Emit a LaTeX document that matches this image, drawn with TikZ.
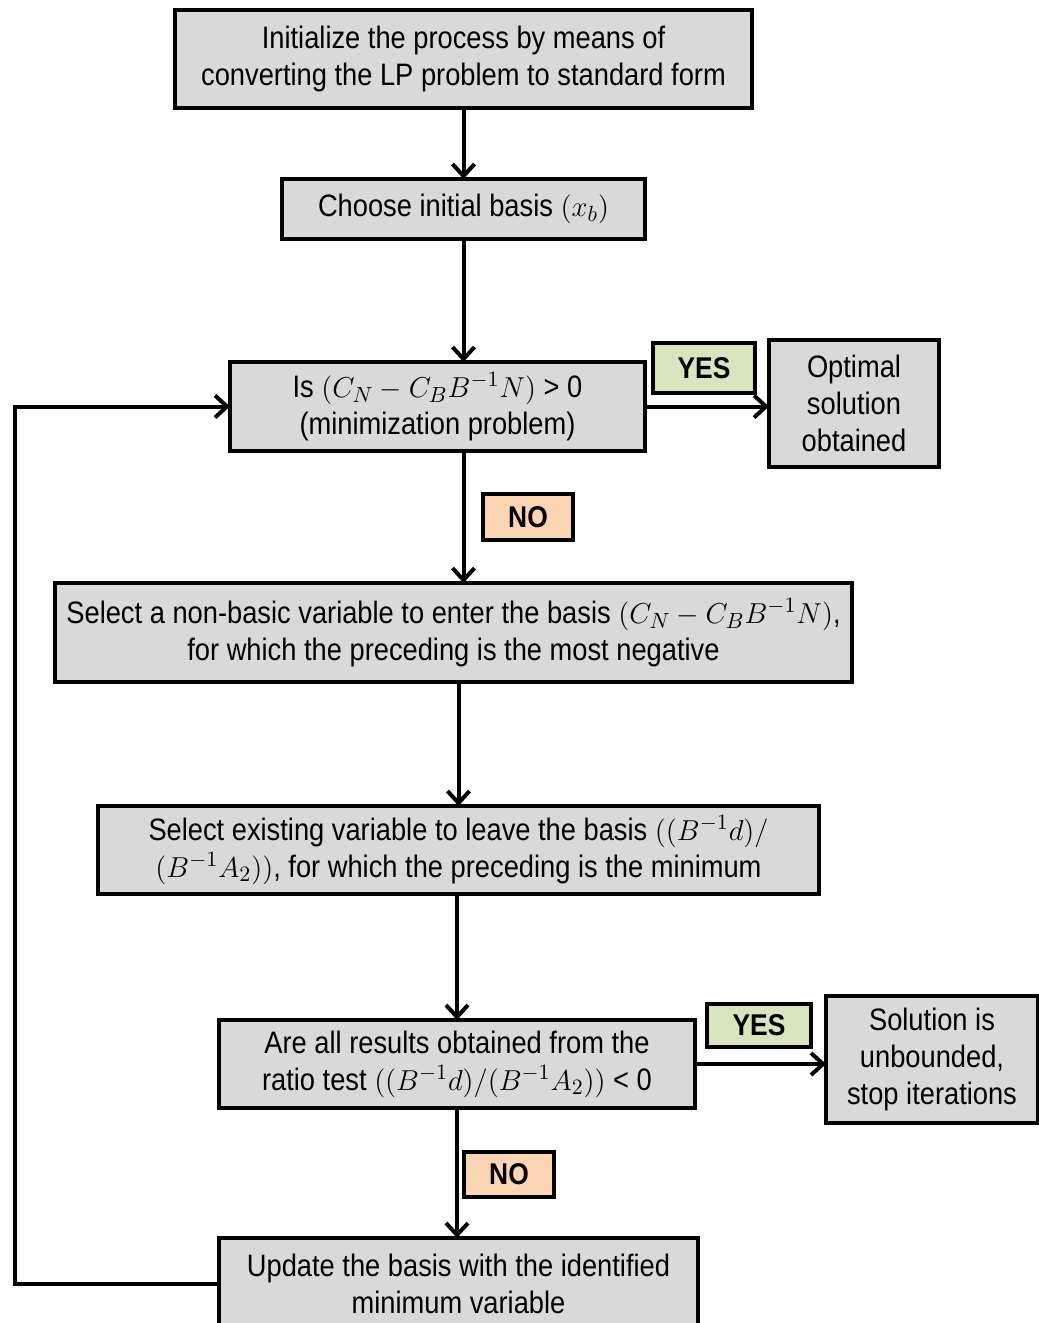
\documentclass[tikz,border=0pt]{standalone}
\usepackage{fontspec}
\setmainfont{Liberation Sans}[FakeStretch=0.88]
\usetikzlibrary{positioning}
\usetikzlibrary{arrows.meta}
\definecolor{boxgray}{HTML}{D9D9D9}
\definecolor{yesgreen}{HTML}{D7E4BD}
\definecolor{nopeach}{HTML}{FBD4B4}
\tikzset{
    flowline/.style={line width=2pt},
    >={Straight Barb[length=6pt,width=11pt,line width=2pt]},
    procbox/.style={
        draw,rectangle,fill=boxgray,
        line width=1.7pt,
        align=center,
        inner sep=2pt,outer sep=0pt,
        font=\fontsize{15.5pt}{18.5pt}\selectfont,
        },
    answerbox/.style={
        draw,rectangle,fill=#1,
        line width=1.7pt,
        inner sep=0pt,outer sep=0pt,
        font=\fontsize{15pt}{18pt}\selectfont\bfseries,
        }
    }

\begin{document}
\begin{tikzpicture}[x=0.5pt,y=-0.5pt]
    \useasboundingbox (0,0) rectangle (1039,1323);
    \node[procbox,minimum width=288.5pt,minimum height=49pt] (init) at (463.5,59) {Initialize the process by means of\\converting the LP problem to standard form};
    \node[procbox,minimum width=181.5pt,minimum height=30pt] (choose) [below=35.5pt of init] {Choose initial basis $(x_b)$};
    \node[procbox,minimum width=207.5pt,minimum height=44.5pt] (isopt) [below=61.5pt of choose,xshift=-13pt] {Is $(C_N - C_B B^{-1}N)$ > 0\\(minimization problem)};
    \node[procbox,minimum width=85pt,minimum height=63.5pt] (optimal) [right=62pt of isopt,yshift=1.5pt] {Optimal\\solution\\obtained};
    \node[answerbox=yesgreen,minimum width=51pt,minimum height=25pt] (yesA) [above right=6.75pt and 4pt of isopt.east] {YES};
    \node[answerbox=nopeach,minimum width=45pt,minimum height=23pt] (noA) [below right=21.5pt and 22.75pt of isopt.south] {NO};
    \node[procbox,minimum width=398.5pt,minimum height=49.5pt] (select) [below=66pt of isopt,xshift=8pt] {Select a non-basic variable to enter the basis $(C_N - C_B B^{-1}N)$,\\for which the preceding is the most negative};
    \node[procbox,minimum width=360.5pt,minimum height=44pt] (leave) [below=62pt of select,xshift=2.5pt] {Select existing variable to leave the basis $((B^{-1}d)/$\\$(B^{-1}A_2))$, for which the preceding is the minimum};
    \node[procbox,minimum width=238pt,minimum height=44pt] (ratio) [below=63pt of leave,xshift=-0.75pt] {Are all results obtained from the\\ratio test $((B^{-1}d)/(B^{-1}A_2))$ < 0};
    \node[procbox,minimum width=106pt,minimum height=63.5pt] (unbounded) [right=65.5pt of ratio,yshift=2.25pt] {Solution is\\unbounded,\\stop iterations};
    \node[answerbox=yesgreen,minimum width=52pt,minimum height=21.5pt] (yesB) [above right=8.5pt and 6pt of ratio.east] {YES};
    \node[answerbox=nopeach,minimum width=45pt,minimum height=22.5pt] (noB) [below right=22pt and 3.5pt of ratio.south] {NO};
    \node[procbox,minimum width=239.5pt,minimum height=46pt] (update) [below=65pt of ratio,xshift=0.75pt] {Update the basis with the identified\\minimum variable};
    % connectors
    \draw[flowline,->] (init) -- (choose);
    \draw[flowline,->] (choose.south) -- (choose.south |- isopt.north);
    \draw[flowline,->] (isopt.east) -- (optimal.west |- isopt.east);
    \draw[flowline,->] (choose.south |- isopt.south) -- (choose.south |- select.north);
    \draw[flowline,->] (leave.north |- select.south) -- (leave.north);
    \draw[flowline,->] (ratio.north |- leave.south) -- (ratio.north);
    \draw[flowline,->] (ratio.east) -- (unbounded.west |- ratio.east);
    \draw[flowline,->] (ratio.south) -- (ratio.south |- update.north);
    \draw[flowline,->] (update.west) -- ++(-204,0) |- (isopt.west);
\end{tikzpicture}
\end{document}
